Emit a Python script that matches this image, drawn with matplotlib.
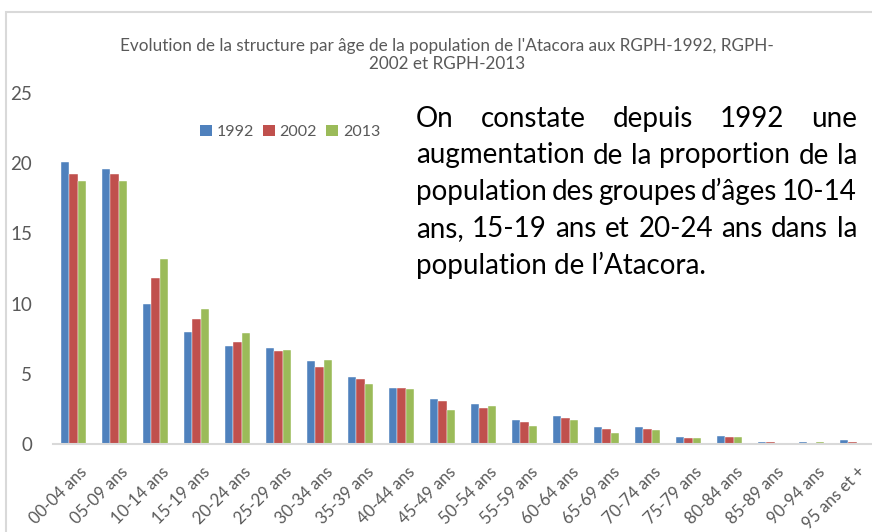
import matplotlib
matplotlib.use("Agg")
import matplotlib.pyplot as plt
import matplotlib.transforms as mtransforms
import numpy as np
from matplotlib.patches import Rectangle, Patch
from matplotlib import font_manager

# ---------------- data ----------------
categories = ["00-04 ans", "05-09 ans", "10-14 ans", "15-19 ans", "20-24 ans",
              "25-29 ans", "30-34 ans", "35-39 ans", "40-44 ans", "45-49 ans",
              "50-54 ans", "55-59 ans", "60-64 ans", "65-69 ans", "70-74 ans",
              "75-79 ans", "80-84 ans", "85-89 ans", "90-94 ans", "95 ans et +"]
v1992 = [20.1, 19.6, 10.0, 8.0, 7.0, 6.83, 5.9, 4.8, 4.0, 3.18,
         2.82, 1.68, 1.99, 1.19, 1.19, 0.50, 0.59, 0.17, 0.17, 0.31]
v2002 = [19.2, 19.2, 11.8, 8.9, 7.3, 6.6, 5.5, 4.6, 4.0, 3.08,
         2.59, 1.59, 1.83, 1.09, 1.09, 0.40, 0.50, 0.17, 0.07, 0.17]
v2013 = [18.7, 18.7, 13.2, 9.6, 7.9, 6.67, 6.0, 4.3, 3.9, 2.42,
         2.70, 1.30, 1.68, 0.81, 1.00, 0.40, 0.50, 0.07, 0.17, 0.07]
series_names = ["1992", "2002", "2013"]
yticks = [0, 5, 10, 15, 20, 25]
title_lines = ["Evolution de la structure par âge de la population de l'Atacora aux RGPH-1992, RGPH-",
               "2002 et RGPH-2013"]
note_lines = ["On constate depuis 1992 une",
              "augmentation de la proportion de la",
              "population des groupes d\u2019âges 10-14",
              "ans, 15-19 ans et 20-24 ans dans la",
              "population de l\u2019Atacora."]

colors = ["#4F81BD", "#C0504D", "#9BBB59"]
grey = "#595959"

def has_font(name):
    try:
        font_manager.findfont(font_manager.FontProperties(family=name), fallback_to_default=False)
        return True
    except Exception:
        return False

body_font = "Lato" if has_font("Lato") else "DejaVu Sans"

W, H = 872, 532
fig = plt.figure(figsize=(W / 100, H / 100), dpi=100)
fig.patch.set_facecolor("white")

# chart-area border (only left and top visible in the reference)
fig.patches.append(Rectangle((6 / W, -0.2), 1.5, 1 - 12 / H + 0.2, transform=fig.transFigure,
                             fill=False, edgecolor="#D9D9D9", linewidth=1.5, zorder=0))

ax = fig.add_axes([53 / W, 88 / H, 820 / W, (444 - 93) / H])
x = np.arange(len(categories))
bw = 0.21
for i, (vals, c, name) in enumerate(zip([v1992, v2002, v2013], colors, series_names)):
    ax.bar(x + (i - 1) * bw, vals, width=bw, color=c, edgecolor="white", linewidth=0.3, label=name)

ax.set_xlim(-0.5, len(categories) - 0.5)
ax.set_ylim(0, 25)
ax.set_yticks(yticks)
ax.set_yticklabels([str(t) for t in yticks], fontsize=13.5, color=grey, family=body_font)
ax.set_xticks(x)
ax.set_xticklabels(categories, rotation=45, ha="right", rotation_mode="anchor",
                   fontsize=12, color=grey, family=body_font)
ax.tick_params(axis="y", length=0, pad=15)
ax.tick_params(axis="x", length=0, pad=14)
offset = mtransforms.ScaledTranslation(5 / 100, 0, fig.dpi_scale_trans)
for lab in ax.get_xticklabels():
    lab.set_transform(lab.get_transform() + offset)
for s in ["top", "right", "left"]:
    ax.spines[s].set_visible(False)
ax.spines["bottom"].set_color("#D9D9D9")
ax.spines["bottom"].set_linewidth(1.5)

handles = [Patch(facecolor=c, edgecolor="none") for c in colors]
leg = ax.legend(handles, series_names, ncol=3, frameon=False,
                loc="center left", bbox_to_anchor=((200 - 53) / 820, (444 - 132) / 351),
                prop={"family": body_font, "size": 11.5}, labelcolor=grey,
                handlelength=0.75, handleheight=0.75, handletextpad=0.3,
                columnspacing=0.55, borderpad=0, borderaxespad=0)

# title
fig.text(447 / W, 1 - 46 / H, title_lines[0], ha="center", va="center",
         fontsize=12.3, color=grey, family=body_font)
fig.text(447 / W, 1 - 64 / H, title_lines[1], ha="center", va="center",
         fontsize=12.3, color=grey, family=body_font)

# justified annotation text
renderer = fig.canvas.get_renderer()
left_px, right_px = 416, 857
baselines = [127, 163.5, 200, 237, 274]

def word_width(w, fs):
    t = fig.text(0, 0, w, fontsize=fs, family=body_font)
    bb = t.get_window_extent(renderer)
    t.remove()
    return bb.width

fs = 20.0
nat = word_width(note_lines[1], fs)
if nat > (right_px - left_px):
    fs = fs * (right_px - left_px) / nat * 0.99

for li, (line, yb) in enumerate(zip(note_lines, baselines)):
    yf = 1 - yb / H
    if li == len(note_lines) - 1:
        fig.text(left_px / W, yf, line, fontsize=fs, family=body_font, color="black",
                 ha="left", va="baseline")
        continue
    words = line.split(" ")
    widths = [word_width(w, fs) for w in words]
    gap = (right_px - left_px - sum(widths)) / (len(words) - 1)
    xp = left_px
    for w, wd in zip(words, widths):
        fig.text(xp / W, yf, w, fontsize=fs, family=body_font, color="black",
                 ha="left", va="baseline")
        xp += wd + gap

fig.savefig("out.png", dpi=100, facecolor="white")
